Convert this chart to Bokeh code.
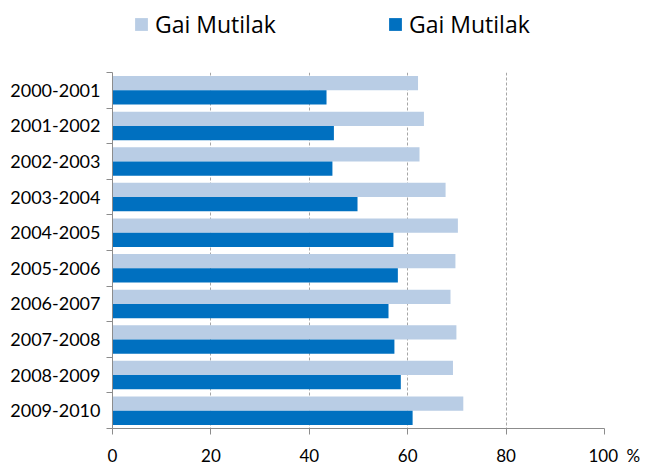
from bokeh.plotting import figure
from bokeh.layouts import column
from bokeh.models import (Range1d, FixedTicker, ColumnDataSource, Legend, LegendItem)
from bokeh.embed import file_html
from bokeh.resources import INLINE

categories = ["2000-2001", "2001-2002", "2002-2003", "2003-2004", "2004-2005",
              "2005-2006", "2006-2007", "2007-2008", "2008-2009", "2009-2010"]
series_light = [62.1, 63.3, 62.4, 67.7, 70.2, 69.7, 68.7, 69.9, 69.2, 71.3]
series_dark = [43.5, 45.0, 44.7, 49.8, 57.1, 58.0, 56.1, 57.3, 58.6, 61.0]
series_names = ["Gai Mutilak", "Gai Mutilak"]
x_ticks = [0, 20, 40, 60, 80, 100]
x_tick_labels = ["0", "20", "40", "60", "80", "\u2007\u2007100\u2002%"]

FONT = "Lato"
LEG_FONT = "Open Sans"
LIGHT = "#B9CDE5"
DARK = "#0070C0"
AXIS = "#8C8C8C"

n = len(categories)
centers = [i + 0.5 for i in range(n)]
src = ColumnDataSource(dict(
    cat=categories,
    y_light=[c - 0.2 for c in centers],
    y_dark=[c + 0.2 for c in centers],
    light=series_light,
    dark=series_dark,
))

W = 648
# ---- legend strip (its frame is aligned with the chart frame by the column) ----
leg = figure(width=W, height=64, output_backend="svg", toolbar_location=None,
             x_range=Range1d(0, 1), y_range=Range1d(0, 1),
             x_axis_location=None, y_axis_location=None,
             min_border=0, outline_line_color=None)
leg.grid.visible = False
proxy = ColumnDataSource(dict(y=[-10], right=[0]))  # off-range proxy for legend swatches
lr1 = leg.hbar(y="y", right="right", left=0, height=0.4, source=proxy, fill_color=LIGHT, line_color=None)
lr2 = leg.hbar(y="y", right="right", left=0, height=0.4, source=proxy, fill_color=DARK, line_color=None)
legend = Legend(items=[LegendItem(label=series_names[0], renderers=[lr1]),
                       LegendItem(label=series_names[1], renderers=[lr2])],
                orientation="horizontal", location=(21, 24),
                glyph_width=16, glyph_height=16, label_standoff=6, label_width=127,
                spacing=105, padding=0, margin=0,
                border_line_color=None, background_fill_alpha=0,
                label_text_font=LEG_FONT, label_text_font_size="23px", label_text_color="black")
leg.add_layout(legend, "center")

# ---- main chart ----
p = figure(width=W, height=404, output_backend="svg", toolbar_location=None,
           x_range=Range1d(0, 100), y_range=Range1d(n, 0),
           min_border_left=112, min_border_right=44, min_border_top=8, min_border_bottom=37)
p.outline_line_color = None
p.background_fill_color = "white"

p.hbar(y="y_light", right="light", left=0, height=0.4, source=src,
       fill_color=LIGHT, line_color=None)
p.hbar(y="y_dark", right="dark", left=0, height=0.4, source=src,
       fill_color=DARK, line_color=None)

xa = p.xaxis[0]
xa.ticker = FixedTicker(ticks=x_ticks)
xa.major_label_overrides = {t: s for t, s in zip(x_ticks, x_tick_labels)}
xa.axis_line_color = AXIS
xa.major_tick_line_color = AXIS
xa.major_tick_out = 6
xa.major_tick_in = 0
xa.minor_tick_line_color = None
xa.major_label_text_font = FONT
xa.major_label_text_font_size = "17px"
xa.major_label_text_color = "black"
xa.major_label_standoff = 10

ya = p.yaxis[0]
ya.ticker = FixedTicker(ticks=centers, minor_ticks=list(range(n + 1)))
ya.major_label_overrides = {c: categories[i] for i, c in enumerate(centers)}
ya.axis_line_color = AXIS
ya.major_tick_line_color = None
ya.major_tick_out = 0
ya.major_tick_in = 0
ya.minor_tick_line_color = AXIS
ya.minor_tick_out = 6
ya.minor_tick_in = 0
ya.major_label_text_font = FONT
ya.major_label_text_font_size = "18px"
ya.major_label_text_color = "black"
ya.major_label_standoff = 6

p.xgrid.grid_line_color = "#A6A6A6"
p.xgrid.grid_line_dash = "3 2"
p.xgrid.ticker = FixedTicker(ticks=x_ticks)
p.ygrid.grid_line_color = None

layout = column(leg, p, spacing=0)
open("out.html", "w").write(file_html(layout, INLINE))
